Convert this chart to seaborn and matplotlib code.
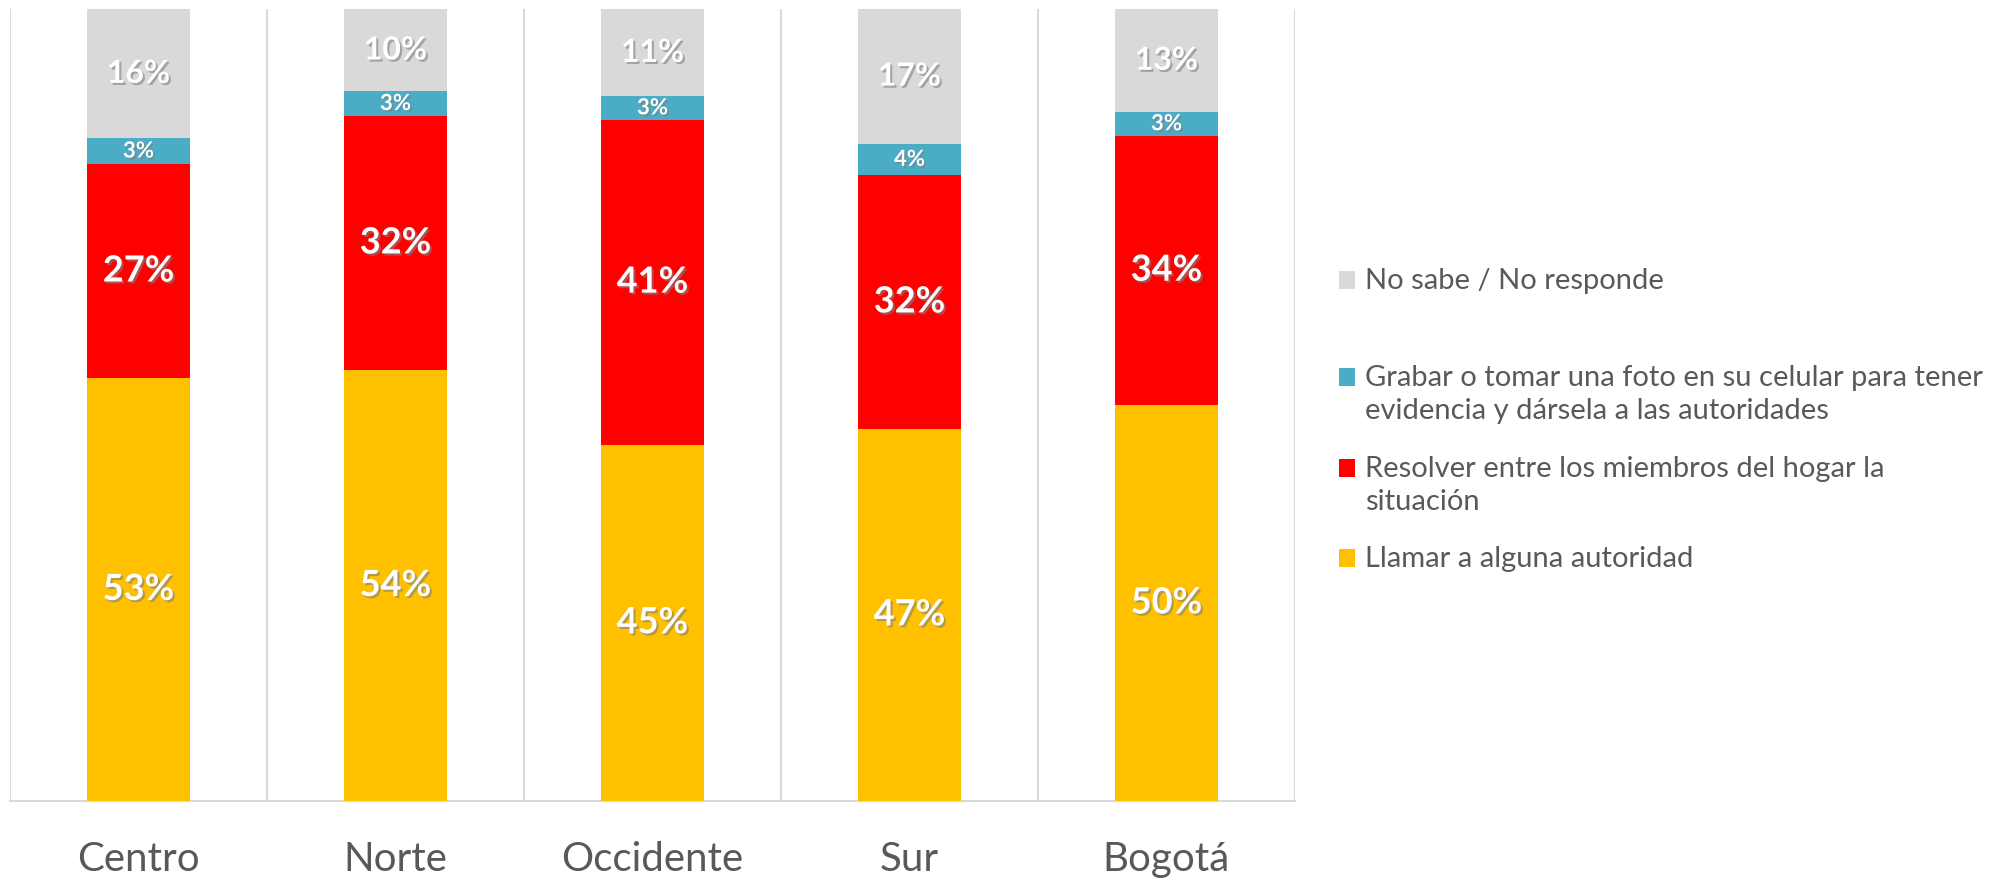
import pandas as pd
import numpy as np
import matplotlib.pyplot as plt
import matplotlib.patheffects as pe
from matplotlib.patches import Rectangle
import seaborn as sns

# data (percent, estimated from the chart; labels show rounded values)
zonas = ['Centro', 'Norte', 'Occidente', 'Sur', 'Bogotá']
llamar = [53.4, 54.4, 45, 47, 50]
resolver = [27.0, 32.1, 41, 32, 34]
grabar = [3.3, 3.1, 3, 4, 3]
no_sabe = [16.3, 10.4, 11, 17, 13]

series = ['Llamar a alguna autoridad',
          'Resolver entre los miembros del hogar la\nsituación',
          'Grabar o tomar una foto en su celular para tener\nevidencia y dársela a las autoridades',
          'No sabe / No responde']
colores = ['#FFC000', '#FF0000', '#4BACC6', '#D9D9D9']

df = pd.DataFrame({'zona': zonas, 'llamar': llamar, 'resolver': resolver,
                   'grabar': grabar, 'no_sabe': no_sabe})
cols = ['llamar', 'resolver', 'grabar', 'no_sabe']
cum = df[cols].cumsum(axis=1)
for c in cols:
    df['cum_' + c] = cum[c]

sns.set_style('white')
plt.rcParams['font.family'] = ['Lato', 'DejaVu Sans']

fig = plt.figure(figsize=(20, 8.79), dpi=100)
ax = fig.add_axes([0.005, 0.0876, 0.6425, 0.9012])

# stacked bars: draw cumulative totals from top down
for c, col in reversed(list(zip(cols, colores))):
    sns.barplot(data=df, x='zona', y='cum_' + c, color=col, width=0.4,
                saturation=1, ax=ax, linewidth=0, edgecolor='none', zorder=3)

ax.set_ylim(0, 100)
ax.set_xlim(-0.5, 4.5)
ax.set_ylabel('')
ax.set_xlabel('')
ax.set_yticks([])
for s in ['top', 'right', 'left']:
    ax.spines[s].set_visible(False)
ax.spines['bottom'].set_color('#D9D9D9')
ax.spines['bottom'].set_linewidth(1.5)
for xv in np.arange(-0.5, 5.0, 1.0):
    ax.axvline(xv, color='#D9D9D9', lw=1.5, zorder=1)
ax.tick_params(axis='x', length=0, pad=28, labelsize=29, labelcolor='#595959')

# data labels
sombra = [pe.withSimplePatchShadow(offset=(1.5, -1.5), shadow_rgbFace='#7f7f7f', alpha=0.6)]
tamanos = {'llamar': 26, 'resolver': 26, 'grabar': 16, 'no_sabe': 23}
for i in range(len(df)):
    base = 0
    for c in cols:
        v = df.loc[i, c]
        ax.text(i, base + v / 2, f'{v:.0f}%', ha='center', va='center', color='white',
                fontsize=tamanos[c], fontweight='bold', path_effects=sombra, zorder=5)
        base += v

# legend (drawn by hand so the keys sit on the first line of each entry)
W, H = 2000, 879
leg_y = {'No sabe / No responde': 281,
         series[2]: 378,
         series[1]: 469,
         series[0]: 559}
paso = 33
for lab, col in zip(series, colores):
    y0 = leg_y[lab]
    fig.add_artist(Rectangle(((1339) / W, 1 - (y0 + 9) / H), 16 / W, 18 / H,
                             transform=fig.transFigure, facecolor=col, edgecolor='none'))
    for k, linea in enumerate(lab.split('\n')):
        fig.text(1365 / W, 1 - (y0 + k * paso) / H, linea, ha='left', va='center',
                 fontsize=21, color='#595959')

fig.savefig('out.png', dpi=100, facecolor='white')
